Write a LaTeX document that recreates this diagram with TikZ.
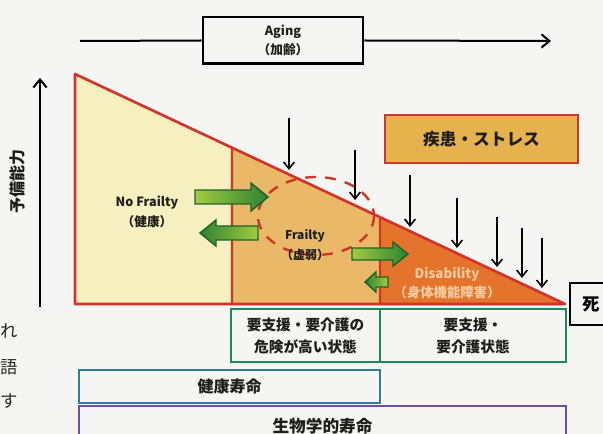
\documentclass[tikz,border=0pt]{standalone}
\usepackage{fontspec}
\setmainfont{Noto Sans CJK JP}
\usetikzlibrary{arrows.meta,calc}
\definecolor{bgc}{RGB}{245,245,243}
\definecolor{yelc}{RGB}{246,240,192}
\definecolor{tanc}{RGB}{233,185,104}
\definecolor{orgc}{RGB}{228,116,44}
\definecolor{redc}{RGB}{212,52,40}
\definecolor{boxc}{RGB}{230,178,78}
\definecolor{grnb}{RGB}{30,136,90}
\definecolor{bluc}{RGB}{45,125,155}
\definecolor{purc}{RGB}{112,78,158}
\definecolor{glight}{RGB}{160,204,64}
\definecolor{gdark}{RGB}{46,130,50}
\definecolor{gedge}{RGB}{30,100,40}
\definecolor{disc}{RGB}{248,204,160}
\definecolor{txtc}{RGB}{30,30,25}
\tikzset{
  downarr/.style={line width=1.2pt,-{Straight Barb[length=5pt,width=8pt,line width=1.2pt]}},
  garrow/.style={draw=gedge,line width=1.1pt},
  infobox/.style={draw,line width=2pt,align=center,font=\bfseries\fontsize{11}{16.5}\selectfont,text=txtc,inner sep=0pt},
  lbl/.style={align=center,font=\bfseries\fontsize{9.5}{15}\selectfont,text=txtc},
  stray/.style={font=\fontsize{13}{13}\selectfont,text=black!85,inner sep=0pt}
}
\begin{document}
\begin{tikzpicture}[x=0.75pt,y=-0.75pt]
\useasboundingbox (0,0) rectangle (603,434);
\fill[bgc] (0,0) rectangle (603,434);

% page text on the left edge
\node[stray] (s1) at (9.5,331) {れ};
\node[stray] (s2) at (9.5,367) {語};
\node[stray] (s3) at (9.5,401) {す};

% Aging
\node[draw,line width=2pt,minimum width=120pt,minimum height=35pt,align=center,
      font=\fontsize{9.5}{14}\selectfont\bfseries,text=txtc] (aging) at (283,40.5) {Aging\\（加齢）};
\coordinate (agl) at (80,41);
\coordinate (agr) at (551,41);
\draw[line width=1.5pt] (agl) -- (aging.west);
\draw[line width=1.5pt,-{Straight Barb[length=6pt,width=10pt,line width=1.5pt]}] (aging.east) -- (agr);

% vertical axis
\coordinate (vb) at (40,307);
\coordinate (vt) at (40,78);
\draw[line width=1.5pt,-{Straight Barb[length=6pt,width=10pt,line width=1.5pt]}] (vb) -- (vt);
\node[rotate=90,font=\bfseries\fontsize{12}{12}\selectfont,text=txtc] (yob) at (17,182) {予備能力};

% main triangle
\coordinate (A) at (75,74);
\coordinate (B) at (75,304);
\coordinate (C) at (565,304);
\coordinate (D1) at ($(A)!0.3204!(C)$);
\coordinate (D2) at ($(A)!0.6224!(C)$);
\coordinate (E1) at (232,304);
\coordinate (E2) at (380,304);
\fill[yelc] (A) -- (D1) -- (E1) -- (B) -- cycle;
\fill[tanc] (D1) -- (D2) -- (E2) -- (E1) -- cycle;
\fill[orgc] (D2) -- (C) -- (E2) -- cycle;
\draw[redc,line width=2pt,line join=round] (A) -- (C) -- (B) -- cycle;
\draw[redc,line width=1.8pt] (D1) -- (E1);
\draw[redc,line width=1.8pt] (D2) -- (E2);

% dashed circle
\draw[redc,line width=1.8pt,dash pattern=on 8pt off 7pt] (316,216) ellipse [x radius=58, y radius=39];

% green arrows
\draw[garrow,left color=glight,right color=gdark]
  (195,190) -- (251,190) -- (251,183) -- (268,197) -- (251,211) -- (251,204) -- (195,204) -- cycle;
\draw[garrow,left color=gdark,right color=glight]
  (258,226) -- (216,226) -- (216,220) -- (200,233) -- (216,246) -- (216,240) -- (258,240) -- cycle;
\draw[garrow,left color=glight,right color=gdark]
  (352,248) -- (393,248) -- (393,242) -- (408,254) -- (393,266) -- (393,260) -- (352,260) -- cycle;
\draw[garrow,left color=gdark,right color=glight]
  (388,277) -- (376,277) -- (376,272) -- (365,282) -- (376,292) -- (376,287) -- (388,287) -- cycle;

% labels in the triangle
\node[lbl] (nof) at (147,212) {No Frailty\\（健康）};
\node[lbl,font=\bfseries\fontsize{9}{14.5}\selectfont] (fra) at (305,245) {Frailty\\（虚弱）};
\node[lbl,text=disc,font=\bfseries\fontsize{10}{14.5}\selectfont] (dis) at (447,283) {Disability\\（身体機能障害）};

% disease / stress box
\node[draw=redc,fill=boxc,line width=2pt,minimum width=144.75pt,minimum height=36pt,
      font=\bfseries\fontsize{12.5}{12.5}\selectfont,text=txtc] (ds) at (481.5,139) {疾患・ストレス};

% stress arrows
\foreach \x/\ya/\yb [count=\i] in {289/118/170, 355/150/200, 410/175/227, 457/198/248, 497/217/267, 522/228/278, 542/238/288}{
  \coordinate (t\i) at (\x,\ya);
  \coordinate (h\i) at (\x,\yb);
  \draw[downarr] (t\i) -- (h\i);
}

% death box
\node[draw,line width=1.8pt,minimum width=31.5pt,minimum height=31.5pt,
      font=\bfseries\fontsize{13}{13}\selectfont] (death) at (591,304) {死};

% bottom boxes
\node[infobox,draw=grnb,minimum width=111.75pt,minimum height=39.75pt] (b1) at (305.5,335.5) {要支援・要介護の\\危険が高い状態};
\node[infobox,draw=grnb,minimum width=139.5pt,minimum height=39.75pt] (b2) at (473,335.5) {要支援・\\要介護状態};
\node[infobox,draw=bluc,minimum width=225.75pt,minimum height=24.75pt,font=\bfseries\fontsize{12}{12}\selectfont] (hl) at (229.5,386.5) {健康寿命};
\node[infobox,draw=purc,minimum width=365.25pt,minimum height=30pt,font=\bfseries\fontsize{12.5}{12.5}\selectfont] (bl) at (322.5,426) {生物学的寿命};
\end{tikzpicture}
\end{document}
